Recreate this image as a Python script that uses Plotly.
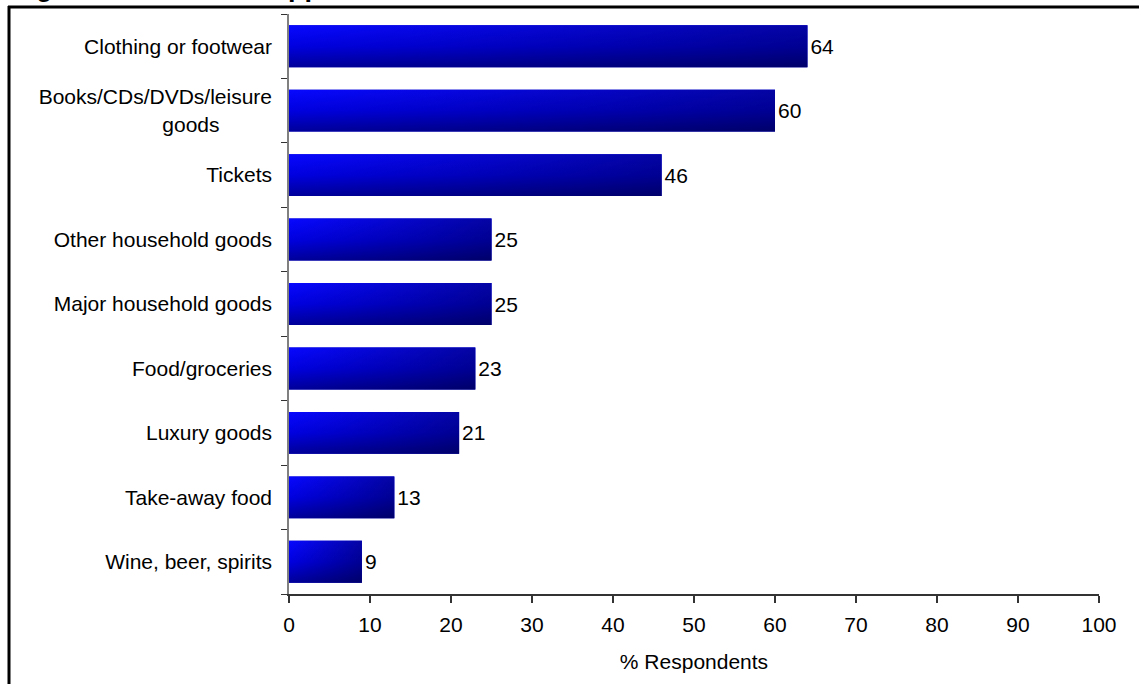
import plotly.graph_objects as go

# Data (top to bottom as shown)
categories = ["Clothing or footwear",
              "Books/CDs/DVDs/leisure<br>goods" + "\u00a0" * 9,
              "Tickets",
              "Other household goods", "Major household goods", "Food/groceries",
              "Luxury goods", "Take-away food", "Wine, beer, spirits"]
values = [64, 60, 46, 25, 25, 23, 21, 13, 9]
x_ticks = [0, 10, 20, 30, 40, 50, 60, 70, 80, 90, 100]
x_title = "% Respondents"
title_text = "Figure 5 \u2013 Goods shopped for online"

n = len(categories)
pos = [n - 1 - i for i in range(n)]
bar_w = 0.65
FONT = "Liberation Sans, Arial, sans-serif"
FS = 21

fig = go.Figure()

# base bars with labels
fig.add_trace(go.Bar(
    x=values, y=pos, orientation="h", width=bar_w,
    marker=dict(color="#0000C8", line=dict(width=0)),
    text=[str(v) for v in values], textposition="outside",
    textfont=dict(family=FONT, size=FS, color="black"),
    cliponaxis=False, showlegend=False, hoverinfo="skip",
))

# gradient overlays (vertical shading + darkening toward the right end)
for v, p in zip(values, pos):
    y0, y1 = p - bar_w / 2, p + bar_w / 2
    fig.add_trace(go.Scatter(
        x=[0, v, v, 0, 0], y=[y0, y0, y1, y1, y0],
        mode="lines", fill="toself", line=dict(width=0, color="rgba(0,0,0,0)"),
        fillgradient=dict(type="vertical",
                          colorscale=[[0, "#00009A"], [0.5, "#0000E0"], [1, "#0808FF"]]),
        showlegend=False, hoverinfo="skip",
    ))
    fig.add_trace(go.Scatter(
        x=[0, v, v, 0, 0], y=[y0, y0, y1, y1, y0],
        mode="lines", fill="toself", line=dict(width=0, color="rgba(0,0,0,0)"),
        fillgradient=dict(type="horizontal",
                          colorscale=[[0, "rgba(0,0,40,0)"], [1, "rgba(0,0,40,0.42)"]]),
        showlegend=False, hoverinfo="skip",
    ))

L, R, T, B = 289, 40, 14, 90
W, H = 1139, 684
pw, ph = W - L - R, H - T - B

def px(xp):
    return (xp - L) / pw

def py(yp):
    return (H - B - yp) / ph

fig.update_layout(
    width=W, height=H,
    margin=dict(l=L, r=R, t=T, b=B, pad=0),
    paper_bgcolor="white", plot_bgcolor="white",
    font=dict(family=FONT, size=FS, color="black"),
    xaxis=dict(
        range=[0, 100], tickvals=x_ticks, ticktext=[str(t) for t in x_ticks],
        showgrid=False, zeroline=False, showline=True, linecolor="#333333", linewidth=1.5,
        ticks="outside", ticklen=7, tickcolor="#333333", tickwidth=1.5,
        tickfont=dict(family=FONT, size=FS, color="black"),
        ticklabelstandoff=4,
        title=dict(text=x_title, font=dict(family=FONT, size=FS, color="black"), standoff=19),
    ),
    yaxis=dict(
        range=[-0.5, n - 0.5], tickvals=pos, ticktext=categories,
        showgrid=False, zeroline=False, showline=True, linecolor="#808080", linewidth=1.5,
        ticks="", tickfont=dict(family=FONT, size=FS, color="black"),
        ticklabelstandoff=11,
        minor=dict(tickvals=[p - 0.5 for p in range(n + 1)], ticks="outside", ticklen=6,
                   tickcolor="#333333", tickwidth=1, showgrid=False),
    ),
    shapes=[
        dict(type="line", xref="paper", yref="paper", x0=px(8), x1=px(1145), y0=py(7), y1=py(7),
             line=dict(color="black", width=3)),
        dict(type="line", xref="paper", yref="paper", x0=px(9), x1=px(9), y0=py(6), y1=py(700),
             line=dict(color="black", width=3)),
    ],
    annotations=[
        dict(text="<b>" + title_text + "</b>", xref="paper", yref="paper",
             x=px(10), y=py(4), xanchor="left", yanchor="bottom", showarrow=False,
             font=dict(family=FONT, size=27, color="black")),
    ],
)

fig.write_html("out.html", config={"displayModeBar": False},
               post_script="document.body.style.margin='0';document.body.style.padding='0';")
